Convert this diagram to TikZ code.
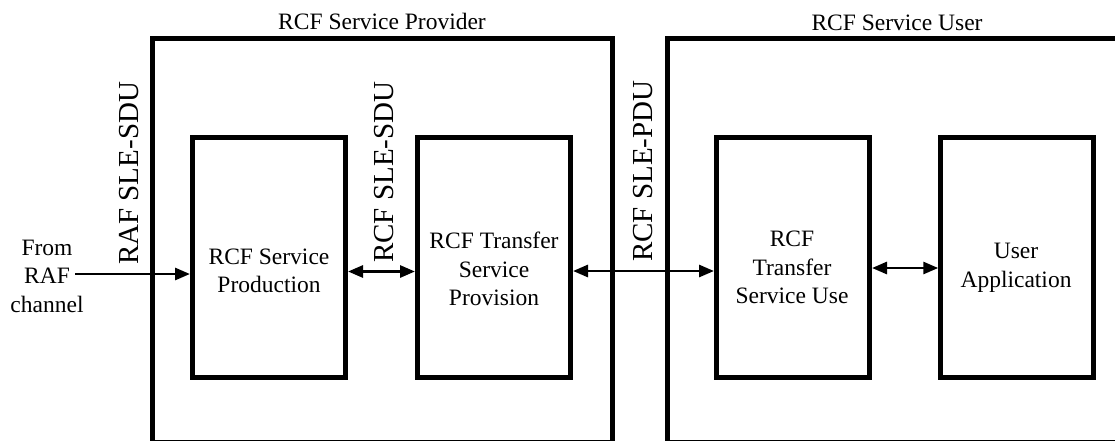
\documentclass[tikz,border=0pt]{standalone}
\usepackage{fontspec}
\setmainfont{Liberation Serif}
\usetikzlibrary{arrows.meta}
\begin{document}
\begin{tikzpicture}[x=1pt,y=-1pt,
  box/.style={draw,line width=5pt,rectangle,minimum width=153pt,minimum height=240pt,inner sep=0pt},
  outer/.style={draw,line width=5pt,rectangle,inner sep=0pt},
  txt/.style={align=center,inner sep=0pt,font=\fontsize{23.5}{28.5}\selectfont},
  vlab/.style={rotate=90,anchor=base west,inner sep=0pt,font=\fontsize{29}{34}\selectfont},
  arr/.style={line width=2.8pt,-{Triangle[length=15pt,width=12pt]}},
  darr/.style={line width=2.8pt,{Triangle[length=15pt,width=12pt]}-{Triangle[length=15pt,width=12pt]}}
]
\useasboundingbox (0,0) rectangle (1115,440);
\clip (0,0) rectangle (1115,440);
% outer boxes
\node[outer,minimum width=460.5pt,minimum height=404pt] (prov) at (382.25,240.5) {};
\node[outer,minimum width=455pt,minimum height=404pt] (user) at (895,240.5) {};
\node[txt,anchor=base] (provlab) at (382,29) {RCF Service Provider};
\node[txt,anchor=base] (userlab) at (897,30) {RCF Service User};
% inner boxes
\node[box] (prod) at (269,257.5) {};
\node[box] (tsp) at (494,257.5) {};
\node[box] (tsu) at (793,257.5) {};
\node[box] (app) at (1017.25,257.5) {};
\node[txt] (prodt) at (269,271) {RCF Service\\Production};
\node[txt] (tspt) at (494,269) {RCF Transfer\\Service\\Provision};
\node[txt] (tsut) at (792,267.5) {RCF\\Transfer\\Service Use};
\node[txt] (appt) at (1016,268) {User\\Application};
% source
\node[txt] (src) at (47,276) {From\\RAF\\channel};
\coordinate (srcend) at (75,274);
% vertical labels
\node[vlab] (l1) at (138,265) {RAF SLE-SDU};
\node[vlab] (l2) at (393,263) {RCF SLE-SDU};
\node[vlab] (l3) at (652,262) {RCF SLE-PDU};
% arrows
\draw[arr] (srcend) -- (srcend -| prod.west);
\draw[darr] ([yshift=-14pt]prod.east) -- ([yshift=-14pt]tsp.west);
\draw[darr] ([yshift=-13.5pt]tsp.east) -- ([yshift=-13.5pt]tsu.west);
\draw[darr] ([yshift=-10.5pt]tsu.east) -- ([yshift=-10.5pt]app.west);
\end{tikzpicture}
\end{document}
